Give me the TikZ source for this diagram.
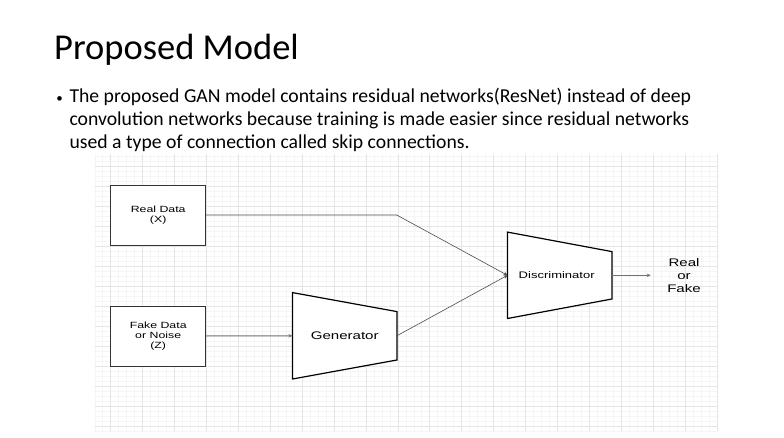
\documentclass[tikz,border=0pt]{standalone}
\usepackage{fontspec}
\setmainfont{Carlito}
\newfontfamily\arialfont{Liberation Sans}
\usetikzlibrary{arrows.meta}

\newcommand{\wide}[1]{\scalebox{1.37}[1]{#1}}

\begin{document}
\begin{tikzpicture}[x=1pt,y=-1pt,
  box/.style={draw=black!80, line width=0.8pt, minimum width=95pt, minimum height=60pt,
    inner sep=0pt, align=center, font=\arialfont\fontsize{9}{10}\selectfont},
  trap/.style={inner sep=0pt, minimum width=104pt, minimum height=86pt},
  trapline/.style={draw=black, line width=1.2pt, line join=miter},
  link/.style={draw=black!70, line width=0.6pt, -{Stealth[length=4pt,width=3.5pt]}},
  bodytext/.style={anchor=base west, inner sep=0pt, font=\fontsize{19.7}{24}\selectfont},
  minor/.style={draw=black!4, line width=0.4pt},
  major/.style={draw=black!10, line width=0.5pt}]
  \fill[white] (0,0) rectangle (784,438);
  \useasboundingbox (0,0) rectangle (784,438);

  % title and text
  \node (title) at (54,59.3) [anchor=base west, inner sep=0pt, font=\fontsize{36.5}{44}\selectfont] {Proposed Model};
  \node (dot) at (59.5,102.7) [anchor=base, inner sep=0pt, font=\fontsize{13}{16}\selectfont] {\textbullet};
  \node (line1) at (69.3,102.7) [bodytext]
    {The proposed GAN model contains residual networks(ResNet) instead of deep};
  \node (line2) at (69.3,126) [bodytext]
    {convolution networks because training is made easier since residual networks};
  \node (line3) at (69.3,149) [bodytext]
    {used a type of connection called skip connections.};

  % grid
  \foreach \i in {0,...,78} \draw[minor] ({94.7+7.975*\i},154) -- ({94.7+7.975*\i},431);
  \foreach \j in {2,...,57} \draw[minor] (94.7,{146+5*\j}) -- ++(622,0);
  \foreach \i in {0,...,19} \draw[major] ({110.65+31.9*\i},154) -- ({110.65+31.9*\i},431);
  \foreach \j in {1,...,14} \draw[major] (94.7,{146+20*\j}) -- ++(622,0);

  % blocks
  \node (real) at (158.2,215) [box, fill=white] {\wide{Real Data}\\\wide{(X)}};
  \node (fake) at (158.2,336) [box, fill=white] {\wide{Fake Data}\\\wide{or Noise}\\\wide{(Z)}};

  \node (gen) at (344.7,335.8) [trap] {};
  \draw[trapline, fill=white] (gen.north west) -- ([yshift=-19pt]gen.north east)
    -- ([yshift=19pt]gen.south east) -- (gen.south west) -- cycle;
  \node at (gen) [font=\arialfont\fontsize{11}{13}\selectfont] {\wide{Generator}};

  \node (disc) at (559.7,275.3) [trap] {};
  \draw[trapline, fill=white] (disc.north west) -- ([yshift=-19.5pt]disc.north east)
    -- ([yshift=19.5pt]disc.south east) -- (disc.south west) -- cycle;
  \node at ([xshift=-3pt]disc.center) [font=\arialfont\fontsize{9.5}{11}\selectfont] {\wide{Discriminator}};

  \node (res) at (684,276) [align=center, inner sep=0pt, font=\arialfont\fontsize{11}{13}\selectfont]
    {\wide{Real}\\\wide{or}\\\wide{Fake}};

  % connectors
  \coordinate (bend) at (396.7,215);
  \coordinate (out) at (650.7,275.3);
  \draw[link] (real.east) -- (bend) -- (disc.west);
  \draw[link] (gen.east) -- (disc.west);
  \draw[link, draw=black!55, line width=1pt] (fake.east) -- (gen.west);
  \draw[link, draw=black!55] (disc.east) -- (out);
\end{tikzpicture}
\end{document}
